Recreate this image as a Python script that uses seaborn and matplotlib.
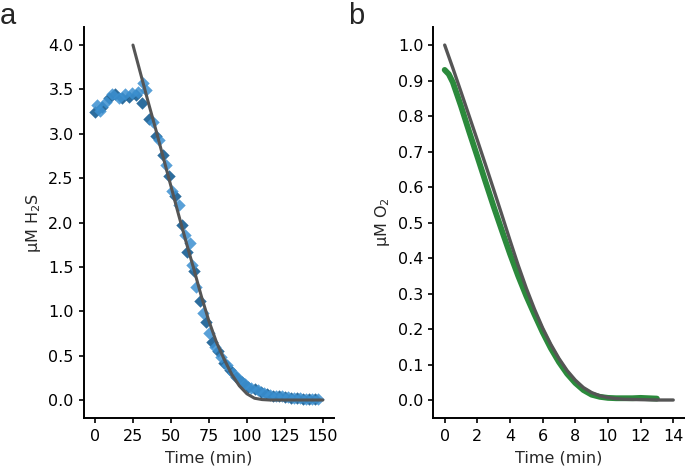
import numpy as np
import pandas as pd
import matplotlib
matplotlib.use('Agg')
import matplotlib.pyplot as plt
import seaborn as sns

# panel a: H2S, two replicate series (dark / light diamonds)
h2s_dark_t = [0, 4.5, 9, 13.5, 18, 22.5, 27, 31, 35.5, 40, 44.5, 49, 53, 57, 60.5, 65, 69, 73, 77, 81,
              85, 89, 93, 97, 101, 105, 109, 113, 117, 121, 125, 129, 133, 137, 141, 145]
h2s_dark_y = [3.25, 3.30, 3.40, 3.45, 3.40, 3.42, 3.44, 3.35, 3.17, 2.98, 2.76, 2.52, 2.30, 1.97, 1.67, 1.45,
              1.12, 0.88, 0.65, 0.55, 0.42, 0.34, 0.26, 0.20, 0.15, 0.12, 0.09, 0.07, 0.05, 0.04, 0.03, 0.02,
              0.02, 0.01, 0.01, 0.01]
h2s_light_t = [1.5, 3, 7, 11, 15.5, 20, 24.5, 28.5, 31.5, 33.5, 38, 42, 46.5, 51, 55, 59, 62.5, 64, 66.5, 71,
               75, 79, 83, 87, 91, 95, 99, 103, 107, 111, 115, 119, 123, 127, 131, 135, 139, 143, 147]
h2s_light_y = [3.33, 3.26, 3.36, 3.45, 3.40, 3.45, 3.46, 3.47, 3.57, 3.49, 3.13, 2.93, 2.65, 2.36, 2.20, 1.86,
               1.77, 1.52, 1.27, 0.98, 0.76, 0.60, 0.49, 0.39, 0.30, 0.24, 0.18, 0.14, 0.11, 0.08, 0.06, 0.05,
               0.04, 0.03, 0.02, 0.02, 0.01, 0.01, 0.01]
h2s_fit_t = [25, 30, 35, 40, 45, 50, 55, 60, 65, 70, 75, 80, 85, 90, 95, 100, 105, 110, 115, 120, 150]
h2s_fit_y = [4.0, 3.68, 3.36, 3.05, 2.73, 2.41, 2.09, 1.78, 1.48, 1.17, 0.89, 0.65, 0.46, 0.29, 0.16, 0.07,
             0.02, 0.005, 0.0, 0.0, 0.0]

# panel b: O2
o2_t = [0, 0.25, 0.5, 1, 1.5, 2, 2.5, 3, 3.5, 4, 4.5, 5, 5.5, 6, 6.5, 7, 7.5, 8, 8.5, 9, 9.5, 10, 10.5,
        11, 11.5, 12, 12.5, 13]
o2_y = [0.93, 0.918, 0.895, 0.828, 0.756, 0.686, 0.615, 0.545, 0.478, 0.412, 0.350, 0.293, 0.241, 0.191,
        0.146, 0.107, 0.074, 0.048, 0.028, 0.015, 0.009, 0.006, 0.005, 0.005, 0.005, 0.006, 0.005, 0.004]
o2_fit_t = [0, 0.5, 1, 1.5, 2, 2.5, 3, 3.5, 4, 4.5, 5, 5.5, 6, 6.5, 7, 7.5, 8, 8.5, 9, 9.5, 10, 10.5,
            11, 12, 13, 14]
o2_fit_y = [1.0, 0.935, 0.868, 0.800, 0.732, 0.663, 0.593, 0.522, 0.450, 0.380, 0.315, 0.256, 0.203,
            0.157, 0.117, 0.083, 0.056, 0.035, 0.021, 0.012, 0.007, 0.004, 0.002, 0.001, 0.0, 0.0]

sns.set_style('ticks')
plt.rcParams['font.family'] = ['DejaVu Sans']
plt.rcParams['mathtext.default'] = 'regular'
plt.rcParams['axes.linewidth'] = 1.4
plt.rcParams['axes.edgecolor'] = 'black'
for k in ['xtick', 'ytick']:
    plt.rcParams[k + '.major.size'] = 3.6
    plt.rcParams[k + '.major.width'] = 1.2
    plt.rcParams[k + '.color'] = 'black'
    plt.rcParams[k + '.labelsize'] = 11.5
plt.rcParams['xtick.major.pad'] = 4.5
plt.rcParams['ytick.major.pad'] = 3.5

GREY = '#555555'

fig = plt.figure(figsize=(6.85, 4.75), dpi=100)
ax1 = fig.add_axes([0.122, 0.1205, 0.366, 0.822])
ax2 = fig.add_axes([0.6325, 0.1205, 0.367, 0.822])

# --- a ---
dark = pd.DataFrame({'t': h2s_dark_t, 'y': h2s_dark_y})
light = pd.DataFrame({'t': h2s_light_t, 'y': h2s_light_y})
sns.scatterplot(data=dark, x='t', y='y', marker='D', s=40, color='#165d92', alpha=0.9,
                linewidth=0, ax=ax1)
sns.scatterplot(data=light, x='t', y='y', marker='D', s=40, color='#3c90d0', alpha=0.85,
                linewidth=0, ax=ax1)
sns.lineplot(x=h2s_fit_t, y=h2s_fit_y, color=GREY, lw=2.2, ax=ax1)
ax1.set_xlim(-7.5, 157.5)
ax1.set_ylim(-0.2, 4.2)
ax1.set_xticks([0, 25, 50, 75, 100, 125, 150])
ax1.set_yticks(np.arange(0, 4.01, 0.5))
ax1.yaxis.set_major_formatter(matplotlib.ticker.FormatStrFormatter('%.1f'))
ax1.set_xlabel('Time (min)', fontsize=11.5, labelpad=5)
ax1.set_ylabel('µM H$_2$S', fontsize=11.5, labelpad=4)

# --- b ---
o2 = pd.DataFrame({'t': o2_t, 'y': o2_y})
sns.lineplot(data=o2, x='t', y='y', color='#2b8a3c', lw=4.2, solid_capstyle='round', ax=ax2)
sns.lineplot(x=o2_fit_t, y=o2_fit_y, color=GREY, lw=2.4, ax=ax2)
ax2.set_xlim(-0.7, 14.7)
ax2.set_ylim(-0.05, 1.05)
ax2.set_xticks(range(0, 15, 2))
ax2.set_yticks(np.arange(0, 1.01, 0.1))
ax2.yaxis.set_major_formatter(matplotlib.ticker.FormatStrFormatter('%.1f'))
ax2.set_xlabel('Time (min)', fontsize=11.5, labelpad=5)
ax2.set_ylabel('µM O$_2$', fontsize=11.5, labelpad=4)

for ax in (ax1, ax2):
    sns.despine(ax=ax)

fig.text(0.0, 0.995, 'a', fontsize=21, va='top', ha='left', family='Liberation Sans')
fig.text(0.508, 0.995, 'b', fontsize=21, va='top', ha='left', family='Liberation Sans')

fig.savefig('out.png', dpi=100)
